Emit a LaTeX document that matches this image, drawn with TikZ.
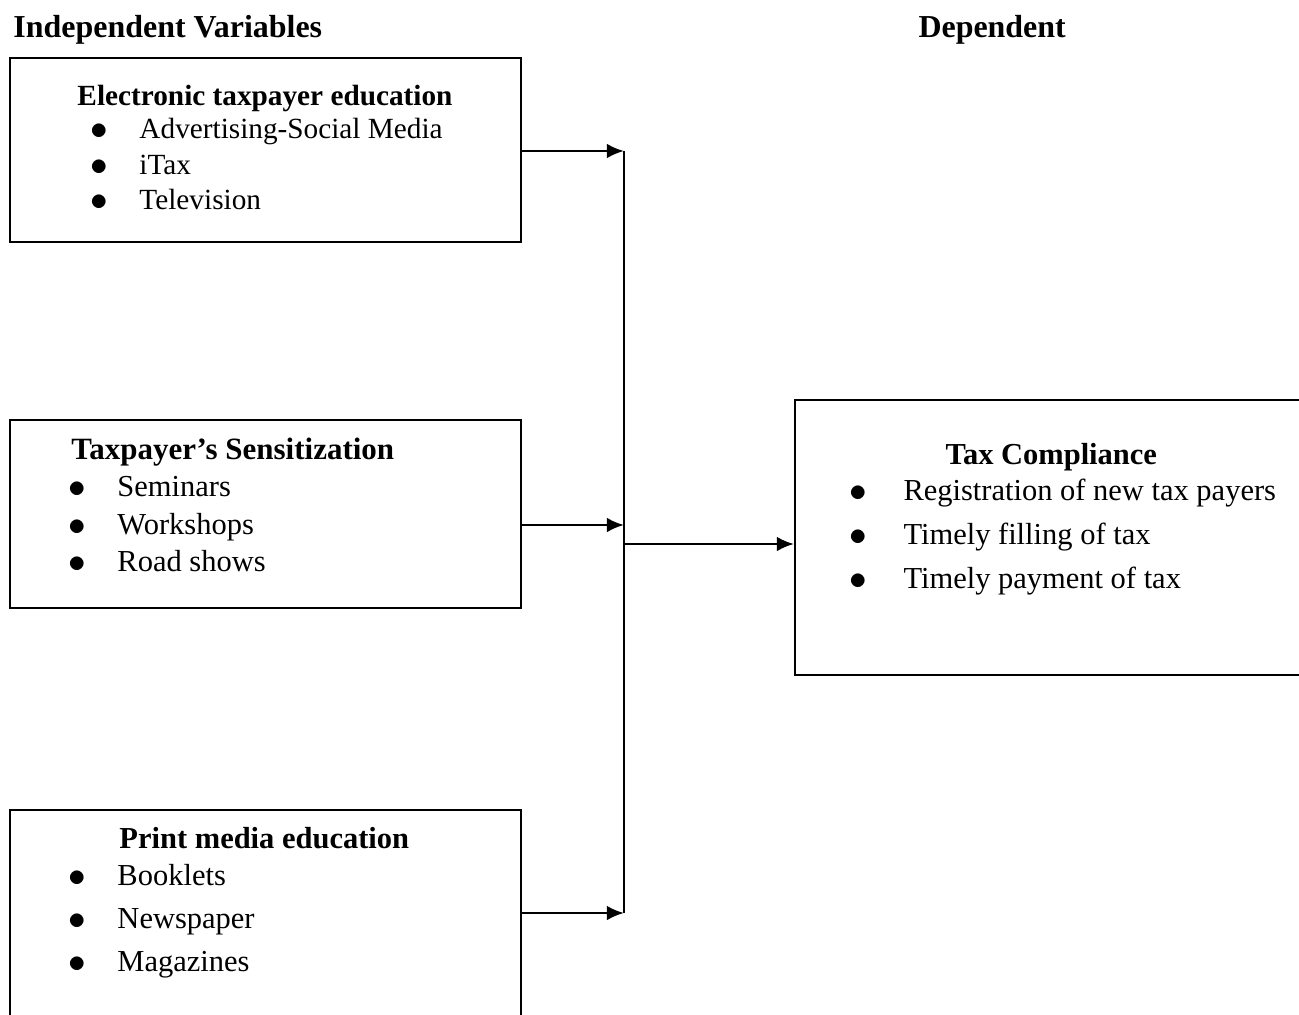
\documentclass[tikz,border=0pt]{standalone}
\usepackage{fontspec}
\setmainfont{Liberation Serif}
\usetikzlibrary{fit,arrows.meta}

\begin{document}
\begin{tikzpicture}[x=0.41pt,y=-0.41pt,
	box/.style={draw, line width=0.85pt, inner sep=0pt},
	conn/.style={line width=1pt},
	arr/.style={conn, -{Latex[length=7pt,width=6pt]}},
	head/.style={anchor=base west, inner sep=0pt, font=\fontsize{13.1}{15}\selectfont\bfseries},
	ttl/.style={anchor=base west, inner sep=0pt, font=\fontsize{12.5}{15}\selectfont\bfseries},
	itm/.style={anchor=base west, inner sep=0pt, font=\fontsize{12.5}{15}\selectfont},
	bul/.style={anchor=base, inner sep=0pt, text height=4pt, text depth=0pt, font=\fontsize{15}{15}\selectfont}]

	\useasboundingbox (0,0) rectangle (1299,1014);
	\clip (0,0) rectangle (1299,1014);

	% headings
	\node[head] (indep) at (13,37) {Independent Variables};
	\node[head] (dep) at (918,37) {Dependent};

	% boxes
	\node[box, fit={(10,58) (521,242)}] (elec) {};
	\node[box, fit={(10,420) (521,608)}] (sens) {};
	\node[box, fit={(10,810) (521,1040)}] (print) {};
	\node[box, fit={(795,400) (1315,675)}] (comp) {};

	% electronic taxpayer education
	\node[ttl, font=\fontsize{12}{15}\selectfont\bfseries] (elec-t) at (77,105) {Electronic taxpayer education};
	\foreach \txt [count=\i] in {Advertising-Social Media, iTax, Television}{
		\node[bul] (elec-b\i) at (99,104+35.5*\i) {$\bullet$};
		\node[itm, font=\fontsize{12}{15}\selectfont] (elec-\i) at (139,103+35.5*\i) {\txt};
	}

	% taxpayer's sensitization
	\node[ttl, font=\fontsize{12.7}{15}\selectfont\bfseries] (sens-t) at (71,459) {Taxpayer’s Sensitization};
	\foreach \txt [count=\i] in {Seminars, Workshops, Road shows}{
		\node[bul] (sens-b\i) at (77,460+37.5*\i) {$\bullet$};
		\node[itm] (sens-\i) at (117,459+37.5*\i) {\txt};
	}

	% print media education
	\node[ttl] (print-t) at (119,848) {Print media education};
	\foreach \txt [count=\i] in {Booklets, Newspaper, Magazines}{
		\node[bul] (print-b\i) at (77,843+43*\i) {$\bullet$};
		\node[itm] (print-\i) at (117,842+43*\i) {\txt};
	}

	% tax compliance
	\node[ttl] (comp-t) at (945,464) {Tax Compliance};
	\foreach \txt [count=\i] in {Registration of new tax payers, Timely filling of tax, Timely payment of tax}{
		\node[bul] (comp-b\i) at (858,457+44*\i) {$\bullet$};
		\node[itm] (comp-\i) at (903,456+44*\i) {\txt};
	}

	% connectors
	\coordinate (j1) at (624,151);
	\coordinate (j2) at (624,525);
	\coordinate (j3) at (624,913);
	\coordinate (jm) at (624,544);
	\draw[arr] (elec.east |- j1) -- (j1);
	\draw[arr] (sens.east |- j2) -- (j2);
	\draw[arr] (print.east |- j3) -- (j3);
	\draw[conn] (j1) -- (j3);
	\draw[arr] (jm) -- (comp.west |- jm);

\end{tikzpicture}
\end{document}
